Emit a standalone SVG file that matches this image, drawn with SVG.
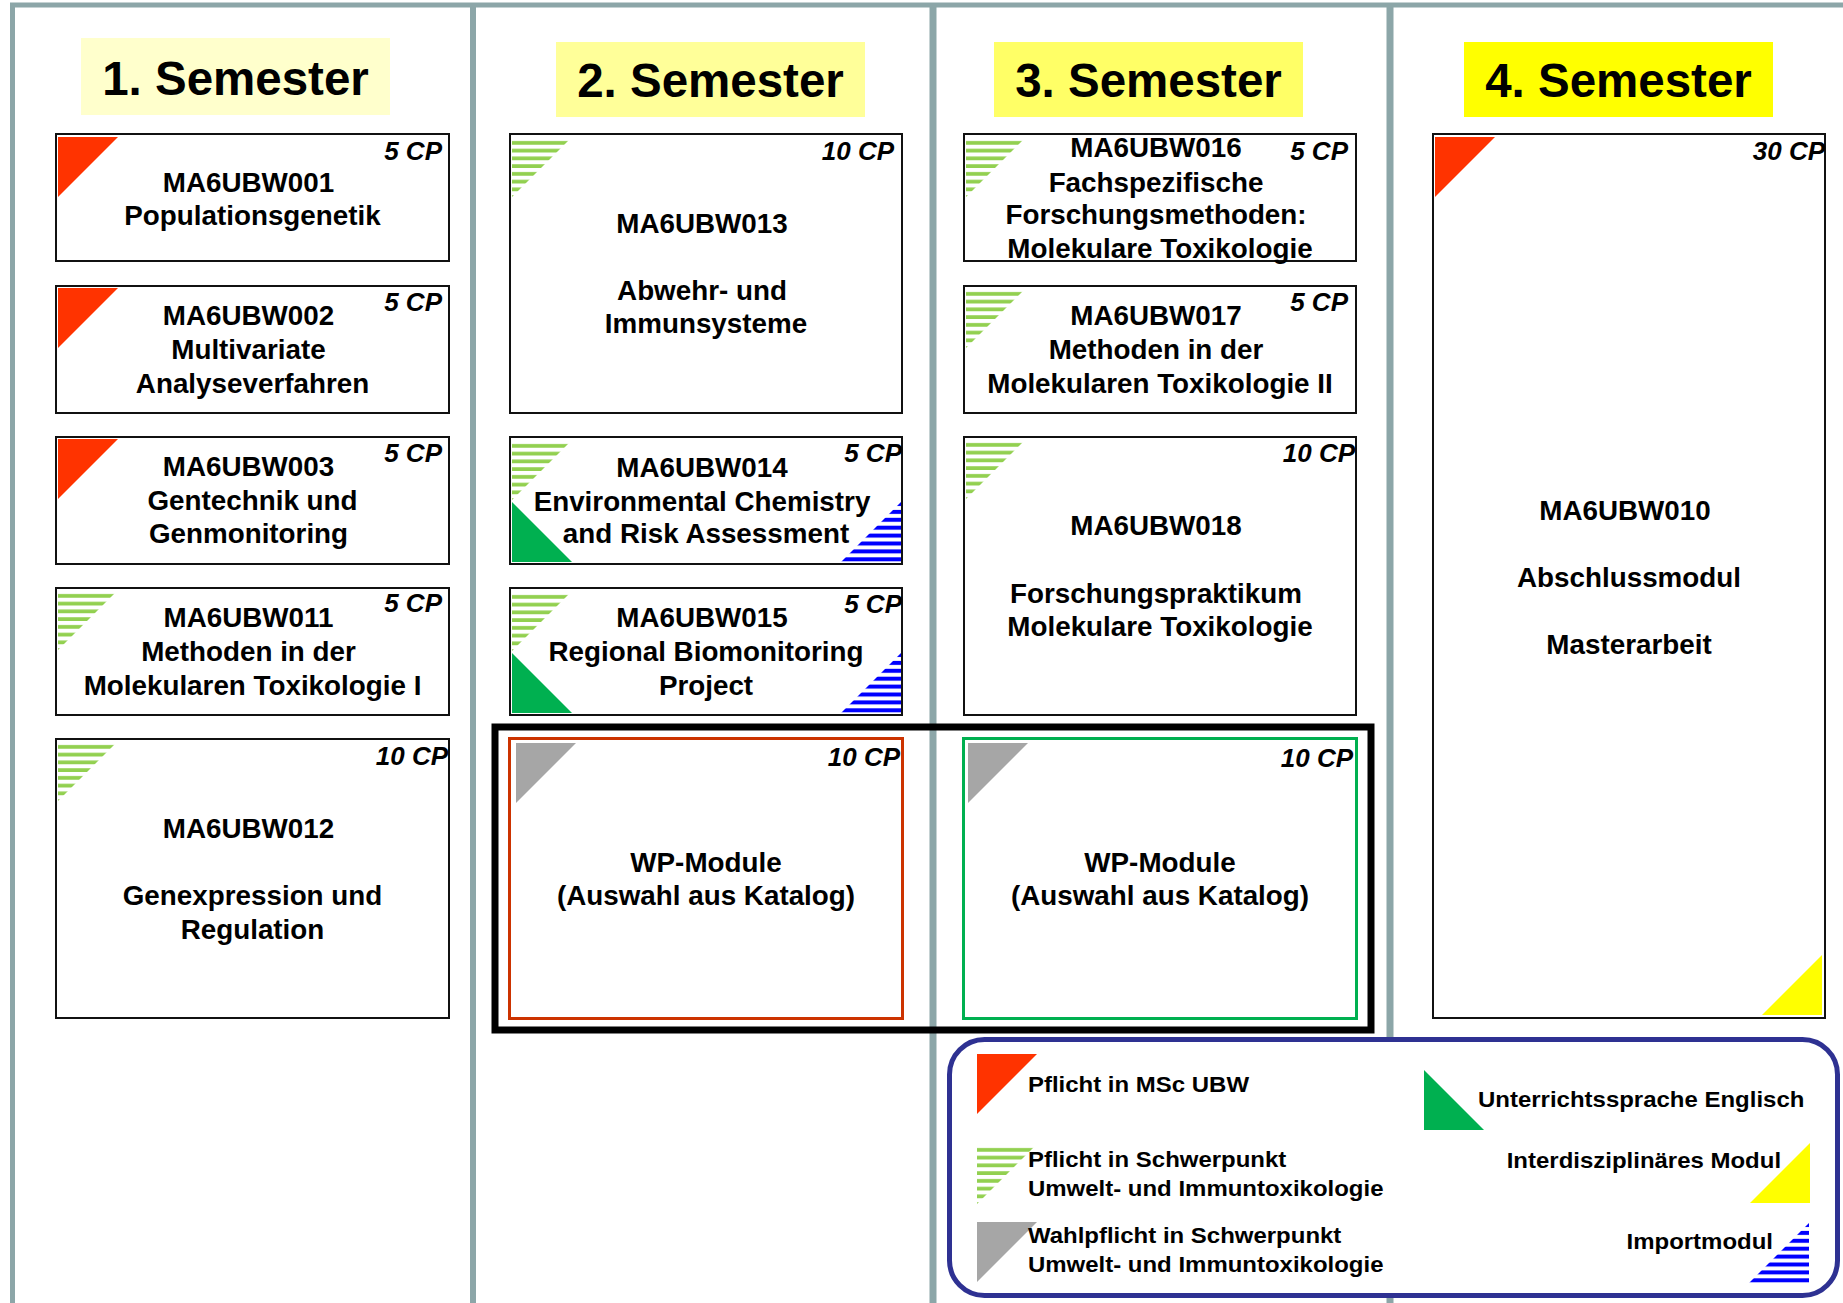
<svg xmlns="http://www.w3.org/2000/svg" xmlns:xlink="http://www.w3.org/1999/xlink" width="1843" height="1303" viewBox="0 0 1843 1303">
<style>
.frame{stroke:#8CA6A8;fill:none}
.mod{fill:#fff;stroke:#111;stroke-width:2}
.t{font-family:"Liberation Sans",Arial,sans-serif;font-weight:bold;font-size:27.8px;text-anchor:middle;fill:#000}
.cp{font-family:"Liberation Sans",Arial,sans-serif;font-weight:bold;font-style:italic;font-size:26px;text-anchor:end;fill:#000}
.hdr{font-family:"Liberation Sans",Arial,sans-serif;font-weight:bold;font-size:47.5px;text-anchor:middle;fill:#000}
.lg{font-family:"Liberation Sans",Arial,sans-serif;font-weight:bold;font-size:22px;fill:#000}
.red{fill:#FF3300}.gray{fill:#A6A6A6}.gs{fill:url(#greenStripes)}.bs{fill:url(#blueStripes)}.gr{fill:#00B050}.ye{fill:#FFFF00}
</style>
<defs>
<pattern id="greenStripes" patternUnits="userSpaceOnUse" width="60" height="7.75"><rect x="0" y="4" width="60" height="4" fill="#92D050"/></pattern>
<pattern id="blueStripes" patternUnits="userSpaceOnUse" width="60" height="7.9"><rect x="0" y="0" width="60" height="4" fill="#0000FF"/></pattern>
<path id="triTL" d="M0,0H60L0,60Z"/>
<path id="triBL" d="M0,0V60H60Z"/>
<path id="triBR" d="M60,0V60H0Z"/>
</defs>
<rect x="0" y="0" width="1843" height="1303" fill="#fff"/>

<g id="frame" class="frame">
<line x1="10" y1="5" x2="1843" y2="5" stroke-width="5"/>
<line x1="12.5" y1="3" x2="12.5" y2="1303" stroke-width="5"/>
<line x1="473" y1="3" x2="473" y2="1303" stroke-width="6"/>
<line x1="933" y1="3" x2="933" y2="1303" stroke-width="7"/>
<line x1="1390" y1="3" x2="1390" y2="1303" stroke-width="7"/>
</g>

<g id="header1"><rect x="81" y="38" width="309" height="77" fill="#FFFFCC"/><text class="hdr" x="235.5" y="95">1. Semester</text></g>
<g id="header2"><rect x="556" y="42" width="309" height="75" fill="#FFFF99"/><text class="hdr" x="710.5" y="97">2. Semester</text></g>
<g id="header3"><rect x="994" y="42" width="309" height="75" fill="#FFFF66"/><text class="hdr" x="1148.5" y="97">3. Semester</text></g>
<g id="header4"><rect x="1464" y="42" width="309" height="75" fill="#FFFF00"/><text class="hdr" x="1618.5" y="97">4. Semester</text></g>

<g id="MA6UBW001">
<rect class="mod" x="56" y="134" width="393" height="127"/>
<use xlink:href="#triTL" x="58" y="137" class="red"/>
<text class="cp" x="442" y="160">5 CP</text>
<text class="t" x="248.5" y="192">MA6UBW001</text>
<text class="t" x="252.5" y="225">Populationsgenetik</text>
</g>
<g id="MA6UBW002">
<rect class="mod" x="56" y="286" width="393" height="127"/>
<use xlink:href="#triTL" x="58" y="288" class="red"/>
<text class="cp" x="442" y="311">5 CP</text>
<text class="t" x="248.5" y="325">MA6UBW002</text>
<text class="t" x="248.5" y="359">Multivariate</text>
<text class="t" x="252.5" y="393">Analyseverfahren</text>
</g>
<g id="MA6UBW003">
<rect class="mod" x="56" y="437" width="393" height="127"/>
<use xlink:href="#triTL" x="58" y="439" class="red"/>
<text class="cp" x="442" y="462">5 CP</text>
<text class="t" x="248.5" y="476">MA6UBW003</text>
<text class="t" x="252.5" y="510">Gentechnik und</text>
<text class="t" x="248.5" y="543">Genmonitoring</text>
</g>
<g id="MA6UBW011">
<rect class="mod" x="56" y="588" width="393" height="127"/>
<use xlink:href="#triTL" x="58" y="590" class="gs"/>
<text class="cp" x="442" y="612">5 CP</text>
<text class="t" x="248.5" y="627">MA6UBW011</text>
<text class="t" x="248.5" y="661">Methoden in der</text>
<text class="t" x="252.5" y="695">Molekularen Toxikologie I</text>
</g>
<g id="MA6UBW012">
<rect class="mod" x="56" y="739" width="393" height="279"/>
<use xlink:href="#triTL" x="58" y="741" class="gs"/>
<text class="cp" x="448" y="765">10 CP</text>
<text class="t" x="248.5" y="838">MA6UBW012</text>
<text class="t" x="252.5" y="905">Genexpression und</text>
<text class="t" x="252.5" y="939">Regulation</text>
</g>

<g id="MA6UBW013">
<rect class="mod" x="510" y="134" width="392" height="279"/>
<use xlink:href="#triTL" x="512" y="137" class="gs"/>
<text class="cp" x="894" y="160">10 CP</text>
<text class="t" x="702" y="233">MA6UBW013</text>
<text class="t" x="702" y="300">Abwehr- und</text>
<text class="t" x="706" y="333">Immunsysteme</text>
</g>
<g id="MA6UBW014">
<rect class="mod" x="510" y="437" width="392" height="127"/>
<use xlink:href="#triTL" x="512" y="440" class="gs"/>
<use xlink:href="#triBL" x="512" y="502" class="gr"/>
<use xlink:href="#triBR" x="841" y="502" class="bs"/>
<text class="cp" x="902" y="462">5 CP</text>
<text class="t" x="702" y="477">MA6UBW014</text>
<text class="t" x="702" y="511">Environmental Chemistry</text>
<text class="t" x="706" y="543">and Risk Assessment</text>
</g>
<g id="MA6UBW015">
<rect class="mod" x="510" y="588" width="392" height="127"/>
<use xlink:href="#triTL" x="512" y="591" class="gs"/>
<use xlink:href="#triBL" x="512" y="653" class="gr"/>
<use xlink:href="#triBR" x="841" y="653" class="bs"/>
<text class="cp" x="902" y="613">5 CP</text>
<text class="t" x="702" y="627">MA6UBW015</text>
<text class="t" x="706" y="661">Regional Biomonitoring</text>
<text class="t" x="706" y="695">Project</text>
</g>
<g id="WP-Module-2">
<rect x="509.5" y="738.5" width="393" height="280" fill="#fff" stroke="#CC3300" stroke-width="3"/>
<use xlink:href="#triTL" x="516" y="743" class="gray"/>
<text class="cp" x="900" y="766">10 CP</text>
<text class="t" x="706" y="872">WP-Module</text>
<text class="t" x="706" y="905">(Auswahl aus Katalog)</text>
</g>

<g id="MA6UBW016">
<rect class="mod" x="964" y="134" width="392" height="127"/>
<use xlink:href="#triTL" x="966" y="137" class="gs"/>
<text class="cp" x="1348" y="160">5 CP</text>
<text class="t" x="1156" y="157">MA6UBW016</text>
<text class="t" x="1156" y="192">Fachspezifische</text>
<text class="t" x="1156" y="224">Forschungsmethoden:</text>
<text class="t" x="1160" y="258">Molekulare Toxikologie</text>
</g>
<g id="MA6UBW017">
<rect class="mod" x="964" y="286" width="392" height="127"/>
<use xlink:href="#triTL" x="966" y="288" class="gs"/>
<text class="cp" x="1348" y="311">5 CP</text>
<text class="t" x="1156" y="325">MA6UBW017</text>
<text class="t" x="1156" y="359">Methoden in der</text>
<text class="t" x="1160" y="393">Molekularen Toxikologie II</text>
</g>
<g id="MA6UBW018">
<rect class="mod" x="964" y="437" width="392" height="278"/>
<use xlink:href="#triTL" x="966" y="439" class="gs"/>
<text class="cp" x="1355" y="462">10 CP</text>
<text class="t" x="1156" y="535">MA6UBW018</text>
<text class="t" x="1156" y="603">Forschungspraktikum</text>
<text class="t" x="1160" y="636">Molekulare Toxikologie</text>
</g>
<g id="WP-Module-3">
<rect x="963.5" y="738.5" width="393" height="280" fill="#fff" stroke="#00B050" stroke-width="3"/>
<use xlink:href="#triTL" x="968" y="743" class="gray"/>
<text class="cp" x="1353" y="767">10 CP</text>
<text class="t" x="1160" y="872">WP-Module</text>
<text class="t" x="1160" y="905">(Auswahl aus Katalog)</text>
</g>

<g id="MA6UBW010">
<rect class="mod" x="1433" y="134" width="392" height="884"/>
<use xlink:href="#triTL" x="1435" y="137" class="red"/>
<use xlink:href="#triBR" x="1762" y="955" class="ye"/>
<text class="cp" x="1825" y="160">30 CP</text>
<text class="t" x="1625" y="520">MA6UBW010</text>
<text class="t" x="1629" y="587">Abschlussmodul</text>
<text class="t" x="1629" y="654">Masterarbeit</text>
</g>

<g id="wp-group">
<rect x="495" y="727" width="876" height="303" fill="none" stroke="#000" stroke-width="7"/>
</g>

<g id="legend">
<rect x="949.5" y="1039.5" width="888" height="256" rx="35" ry="35" fill="#fff" stroke="#2E3192" stroke-width="5"/>
<use xlink:href="#triTL" x="977" y="1054" class="red"/>
<use xlink:href="#triTL" x="977" y="1144" class="gs"/>
<use xlink:href="#triTL" x="977" y="1222" class="gray"/>
<use xlink:href="#triBL" x="1424" y="1070" class="gr"/>
<use xlink:href="#triBR" x="1750" y="1143" class="ye"/>
<use xlink:href="#triBR" x="1749" y="1223" class="bs"/>
<g transform="scale(1.09 1)">
<text class="lg" x="943.1" y="1092">Pflicht in MSc UBW</text>
<text class="lg" x="943.1" y="1167">Pflicht in Schwerpunkt</text>
<text class="lg" x="943.1" y="1196">Umwelt- und Immuntoxikologie</text>
<text class="lg" x="943.1" y="1243">Wahlpflicht in Schwerpunkt</text>
<text class="lg" x="943.1" y="1272">Umwelt- und Immuntoxikologie</text>
<text class="lg" x="1356" y="1107">Unterrichtssprache Englisch</text>
<text class="lg" x="1634" y="1168" text-anchor="end">Interdisziplinäres Modul</text>
<text class="lg" x="1626.6" y="1249" text-anchor="end">Importmodul</text>
</g>
</g>
</svg>
